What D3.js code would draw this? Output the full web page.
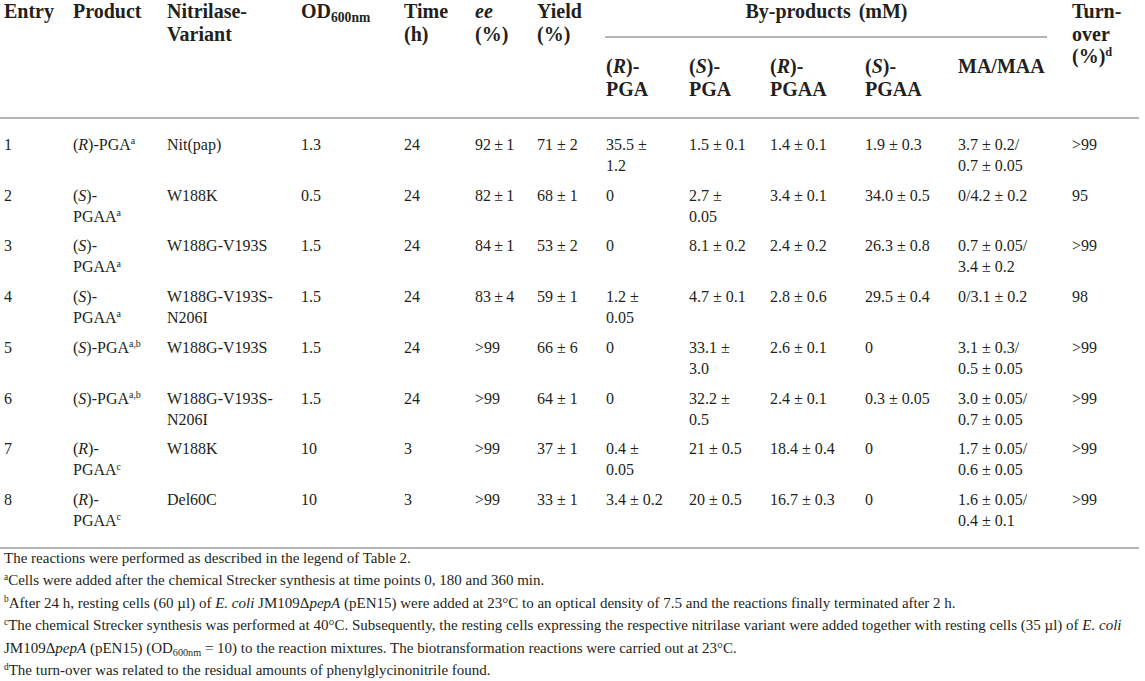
<!DOCTYPE html>
<html>
<head>
<meta charset="utf-8">
<script src="https://cdn.jsdelivr.net/npm/d3@7"></script>
<style>
  html, body { margin: 0; padding: 0; background: #fff; }
  svg { display: block; }
</style>
</head>
<body>
<svg id="chart" width="1145" height="681"></svg>
<script>
// ---------------- DATA ----------------
// markup: *italic*  ^superscript^  _subscript_  \n line break
const entries   = ["1", "2", "3", "4", "5", "6", "7", "8"];
const products  = ["(*R*)-PGA^a^", "(*S*)-\nPGAA^a^", "(*S*)-\nPGAA^a^", "(*S*)-\nPGAA^a^",
                   "(*S*)-PGA^a,b^", "(*S*)-PGA^a,b^", "(*R*)-\nPGAA^c^", "(*R*)-\nPGAA^c^"];
const variants  = ["Nit(pap)", "W188K", "W188G-V193S", "W188G-V193S-\nN206I",
                   "W188G-V193S", "W188G-V193S-\nN206I", "W188K", "Del60C"];
const odValues  = ["1.3", "0.5", "1.5", "1.5", "1.5", "1.5", "10", "10"];
const timeHours = ["24", "24", "24", "24", "24", "24", "3", "3"];
const eeValues  = ["92\u2009±\u20091", "82\u2009±\u20091", "84\u2009±\u20091", "83\u2009±\u20094", ">99", ">99", ">99", ">99"];
const yieldValues = ["71 ± 2", "68 ± 1", "53 ± 2", "59 ± 1", "66 ± 6", "64 ± 1", "37 ± 1", "33 ± 1"];
const rPGA  = ["35.5 ±\n1.2", "0", "0", "1.2 ±\n0.05", "0", "0", "0.4 ±\n0.05", "3.4 ± 0.2"];
const sPGA  = ["1.5 ± 0.1", "2.7 ±\n0.05", "8.1 ± 0.2", "4.7 ± 0.1", "33.1 ±\n3.0", "32.2 ±\n0.5", "21 ± 0.5", "20 ± 0.5"];
const rPGAA = ["1.4 ± 0.1", "3.4 ± 0.1", "2.4 ± 0.2", "2.8 ± 0.6", "2.6 ± 0.1", "2.4 ± 0.1", "18.4 ± 0.4", "16.7 ± 0.3"];
const sPGAA = ["1.9 ± 0.3", "34.0 ± 0.5", "26.3 ± 0.8", "29.5 ± 0.4", "0", "0.3 ± 0.05", "0", "0"];
const maMAA = ["3.7 ± 0.2/\n0.7 ± 0.05", "0/4.2 ± 0.2", "0.7 ± 0.05/\n3.4 ± 0.2", "0/3.1 ± 0.2",
               "3.1 ± 0.3/\n0.5 ± 0.05", "3.0 ± 0.05/\n0.7 ± 0.05", "1.7 ± 0.05/\n0.6 ± 0.05", "1.6 ± 0.05/\n0.4 ± 0.1"];
const turnover = [">99", "95", ">99", "98", ">99", ">99", ">99", ">99"];

const columnKeys = ["entry", "product", "variant", "od", "time", "ee", "yield",
                    "rpga", "spga", "rpgaa", "spgaa", "ma", "turn"];
const headerLabels = ["Entry", "Product", "Nitrilase-\nVariant", "OD_600nm_", "Time\n(h)", "*ee*\n(%)", "Yield\n(%)",
                      "(*R*)-\nPGA", "(*S*)-\nPGA", "(*R*)-\nPGAA", "(*S*)-\nPGAA", "MA/MAA", "Turn-\nover\n(%)^d^"];
const groupLabel = "By-products (mM)";
const groupKeys = ["rpga", "spga", "rpgaa", "spgaa", "ma"];
const footnotes = [
  "The reactions were performed as described in the legend of Table 2.",
  "^a^Cells were added after the chemical Strecker synthesis at time points 0, 180 and 360 min.",
  "^b^After 24 h, resting cells (60 µl) of *E. coli* JM109Δ*pepA* (pEN15) were added at 23°C to an optical density of 7.5 and the reactions finally terminated after 2 h.",
  "^c^The chemical Strecker synthesis was performed at 40°C. Subsequently, the resting cells expressing the respective nitrilase variant were added together with resting cells (35 µl) of *E. coli*",
  "JM109Δ*pepA* (pEN15) (OD_600nm_ = 10) to the reaction mixtures. The biotransformation reactions were carried out at 23°C.",
  "^d^The turn-over was related to the residual amounts of phenylglycinonitrile found."
];

// ---------------- LAYOUT ----------------
const FONT = "'Liberation Serif', 'Times New Roman', serif";
const INK = "#231f20";
const RULE = "#b4b4b4";

const svg = d3.select("#chart");

const x = d3.scaleOrdinal()
  .domain(columnKeys)
  .range([4, 73, 167, 301, 404, 475, 537, 606, 689, 770, 865, 958, 1072]);

const y = d3.scalePoint().domain(entries).range([150, 505]);

function parse(s) {
  const segs = [];
  let it = false, sup = false, sub = false, buf = "";
  const flush = () => { if (buf) segs.push({ t: buf, it, sup, sub }); buf = ""; };
  for (const ch of s) {
    if (ch === "*") { flush(); it = !it; }
    else if (ch === "^") { flush(); sup = !sup; }
    else if (ch === "_") { flush(); sub = !sub; }
    else buf += ch;
  }
  flush();
  return segs;
}

function richLine(g, x0, y0, str, size, weight) {
  const t = g.append("text")
    .attr("x", x0).attr("y", y0)
    .attr("font-family", FONT)
    .attr("font-size", size)
    .attr("font-weight", weight)
    .attr("fill", INK);
  let shift = 0;
  parse(str).forEach(s => {
    let target = 0, fs = size;
    if (s.sup) { target = -0.36 * size; fs = size * 0.62; }
    if (s.sub) { target = 0.22 * size; fs = size * 0.68; }
    const ts = t.append("tspan").text(s.t).attr("font-size", fs);
    if (target !== shift) { ts.attr("dy", target - shift); shift = target; }
    if (s.it) ts.attr("font-style", "italic");
  });
  return t;
}

function richBlock(g, x0, y0, str, size, weight, lh) {
  str.split("\n").forEach((line, i) => richLine(g, x0, y0 + i * lh, line, size, weight));
}

// ---------------- HEADER ----------------
const head = svg.append("g");
const HS = 20, HL = 22.5;
columnKeys.forEach((k, i) => {
  const isSub = groupKeys.includes(k);
  richBlock(head, x(k), isSub ? 73 : 18, headerLabels[i], HS, "bold", HL);
});
// group header
const gx0 = x(groupKeys[0]), gx1 = 1047;
head.append("text")
  .attr("x", (gx0 + gx1) / 2).attr("y", 18)
  .attr("text-anchor", "middle")
  .attr("font-family", FONT).attr("font-size", HS).attr("font-weight", "bold")
  .attr("fill", INK).attr("word-spacing", 3)
  .text(groupLabel);
head.append("line")
  .attr("x1", gx0 - 1).attr("x2", gx1).attr("y1", 37).attr("y2", 37)
  .attr("stroke", RULE).attr("stroke-width", 2);
// header bottom rule
svg.append("line")
  .attr("x1", 0).attr("x2", 1139).attr("y1", 118).attr("y2", 118)
  .attr("stroke", RULE).attr("stroke-width", 2);

// ---------------- BODY ----------------
const columnsData = {
  entry: entries, product: products, variant: variants, od: odValues, time: timeHours,
  ee: eeValues, yield: yieldValues, rpga: rPGA, spga: sPGA, rpgaa: rPGAA, spgaa: sPGAA,
  ma: maMAA, turn: turnover
};
const body = svg.append("g");
const DS = 16, DL = 21;
entries.forEach((e, r) => {
  columnKeys.forEach(k => {
    richBlock(body, x(k), y(e), columnsData[k][r], DS, "normal", DL);
  });
});

// bottom rule
svg.append("line")
  .attr("x1", 0).attr("x2", 1139).attr("y1", 548).attr("y2", 548)
  .attr("stroke", RULE).attr("stroke-width", 2);

// ---------------- FOOTNOTES ----------------
const foot = svg.append("g");
const fy = d3.scaleLinear().domain([0, footnotes.length - 1]).range([563, 675]);
footnotes.forEach((f, i) => {
  const t = richLine(foot, 4, fy(i), f, 15, "normal");
  const w = t.node().getComputedTextLength();
  if (w > 1134) t.attr("textLength", 1134).attr("lengthAdjust", "spacingAndGlyphs");
});
</script>
</body>
</html>
